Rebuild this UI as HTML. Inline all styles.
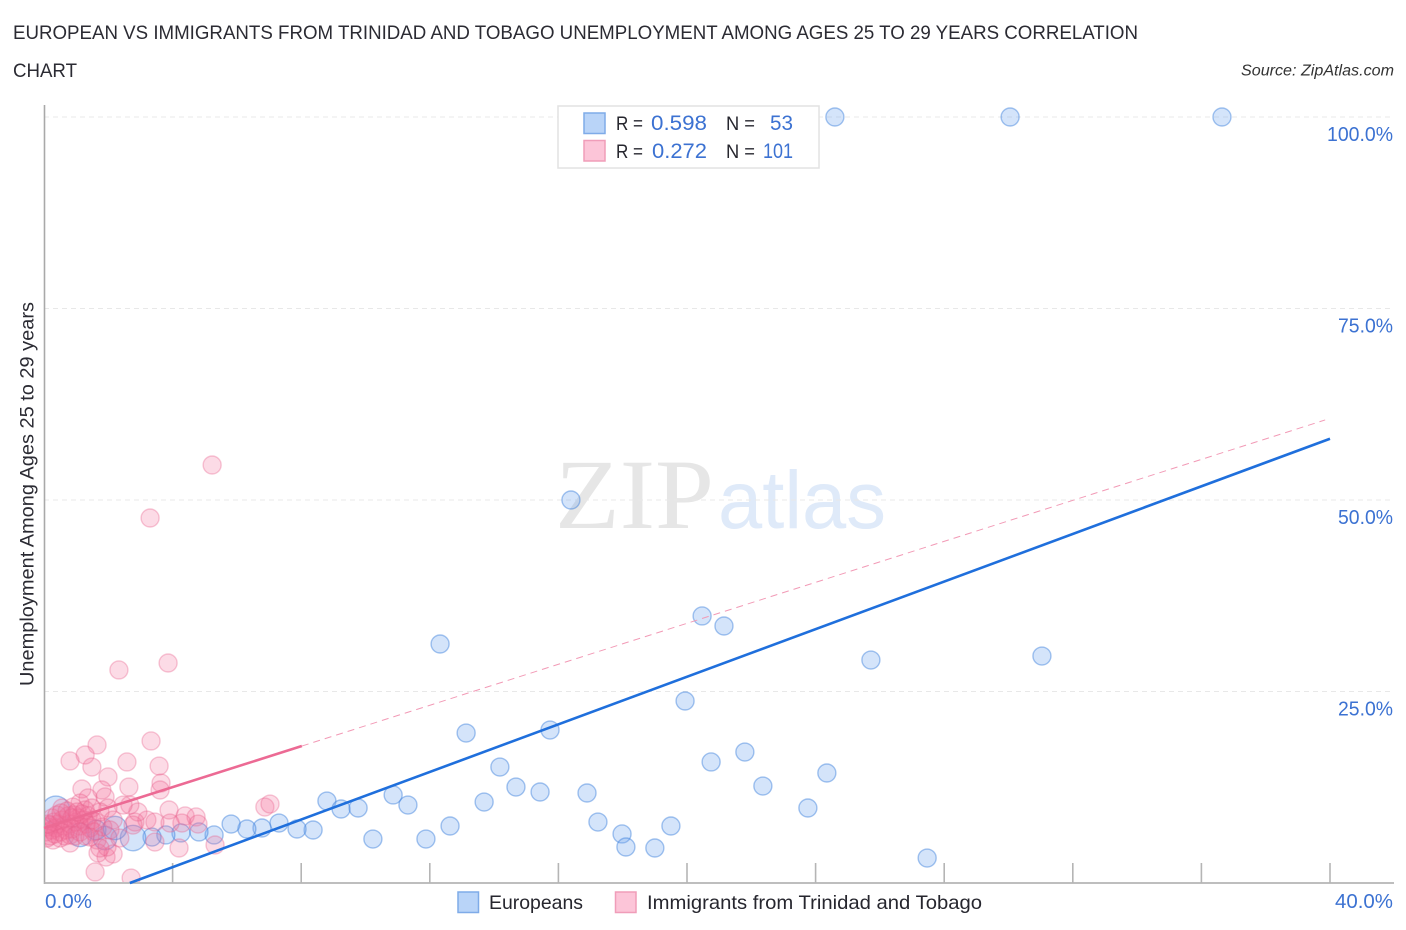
<!DOCTYPE html>
<html lang="en">
<head>
<meta charset="utf-8">
<title>European vs Immigrants from Trinidad and Tobago Unemployment Correlation Chart</title>
<style>
html,body{margin:0;padding:0;background:#fff;width:1406px;height:930px;overflow:hidden}
svg{display:block}
text{font-family:"Liberation Sans",sans-serif}
</style>
</head>
<body>
<svg id="chart" width="1406" height="930" viewBox="0 0 1406 930" xmlns="http://www.w3.org/2000/svg">
  <defs><clipPath id="plot-clip"><rect x="45" y="100" width="1349" height="782"/></clipPath></defs>
  <rect x="0" y="0" width="1406" height="930" fill="#fff"/>

  <text x="13" y="39" font-size="19" fill="#2b2b33" textLength="1125" lengthAdjust="spacingAndGlyphs">EUROPEAN VS IMMIGRANTS FROM TRINIDAD AND TOBAGO UNEMPLOYMENT AMONG AGES 25 TO 29 YEARS CORRELATION</text>
  <text x="13" y="77" font-size="19" fill="#2b2b33" textLength="64" lengthAdjust="spacingAndGlyphs">CHART</text>
  <text x="1241" y="75.500" font-size="15.500" font-style="italic" fill="#333" textLength="153" lengthAdjust="spacingAndGlyphs">Source: ZipAtlas.com</text>

  <g>
    <text x="555" y="528" font-size="100" fill="#e6e6e6" textLength="159" lengthAdjust="spacingAndGlyphs" style="font-family:'Liberation Serif',serif">ZIP</text>
    <text x="718" y="528" font-size="82" fill="#dfeaf9" textLength="168" lengthAdjust="spacingAndGlyphs">atlas</text>
  </g>

  <g id="grid"></g>
  <g id="axes"></g>
  <g id="marks" clip-path="url(#plot-clip)"></g>
  <g id="trends"></g>
  <g id="tick-labels"></g>

  <g>
    <rect x="558" y="106" width="261" height="62" fill="#fff" stroke="#e2e2e2" stroke-width="1.500"/>
    <rect x="584" y="113" width="21" height="20.500" fill="#b9d4f8" stroke="#7fabe8" stroke-width="1.500"/>
    <rect x="584" y="140.500" width="21" height="20.500" fill="#fcc5d8" stroke="#f09db9" stroke-width="1.500"/>
    <text x="616" y="130" font-size="19.500" fill="#26262e" textLength="27" lengthAdjust="spacingAndGlyphs">R =</text>
    <text x="651" y="130" font-size="21" fill="#3c72d2" textLength="56" lengthAdjust="spacingAndGlyphs">0.598</text>
    <text x="726" y="130" font-size="19.500" fill="#26262e" textLength="29" lengthAdjust="spacingAndGlyphs">N =</text>
    <text x="770" y="130" font-size="21" fill="#3c72d2" textLength="23" lengthAdjust="spacingAndGlyphs">53</text>
    <text x="616" y="158" font-size="19.500" fill="#26262e" textLength="27" lengthAdjust="spacingAndGlyphs">R =</text>
    <text x="652" y="158" font-size="21" fill="#3c72d2" textLength="55" lengthAdjust="spacingAndGlyphs">0.272</text>
    <text x="726" y="158" font-size="19.500" fill="#26262e" textLength="29" lengthAdjust="spacingAndGlyphs">N =</text>
    <text x="763" y="158" font-size="21" fill="#3c72d2" textLength="30" lengthAdjust="spacingAndGlyphs">101</text>
  </g>

  <text transform="translate(33.500,686) rotate(-90)" x="0" y="0" font-size="19" fill="#2b2b33" textLength="384" lengthAdjust="spacingAndGlyphs">Unemployment Among Ages 25 to 29 years</text>

  <g>
    <rect x="458" y="892" width="20.500" height="20.500" fill="#b9d4f8" stroke="#7fabe8" stroke-width="1.500"/>
    <text x="489" y="909" font-size="19.500" fill="#26262e" textLength="94" lengthAdjust="spacingAndGlyphs">Europeans</text>
    <rect x="615.500" y="892" width="20.500" height="20.500" fill="#fcc5d8" stroke="#f09db9" stroke-width="1.500"/>
    <text x="647" y="909" font-size="19.500" fill="#26262e" textLength="335" lengthAdjust="spacingAndGlyphs">Immigrants from Trinidad and Tobago</text>
  </g>
</svg>

<script>
const xTickValues = [0, 4, 8, 12, 16, 20, 24, 28, 32, 36, 40];
const yGridValues = [25, 50, 75, 100];
const yTickLabels = ["25.0%", "50.0%", "75.0%", "100.0%"];
const xEndLabels = ["0.0%", "40.0%"];

const europeansX = [24.6,30.05,36.64,16.39,20.47,21.15,12.32,25.72,31.04,19.94,13.13,15.74,21.8,20.75,14.18,22.36,24.35,14.68,15.43,16.89,13.69,8.8,10.86,11.32,9.24,9.77,23.76,17.23,12.63,19.5,17.98,18.1,19.0,27.47,10.23,11.88,8.37,7.87,7.31,6.78,6.31,5.82,5.29,4.82,4.26,3.79,3.36,2.77,1.9,1.62,1.12,0.37,2.21];
const europeansY = [100,100,100,50,34.86,33.55,31.2,29.11,29.63,23.76,19.58,19.97,17.1,15.8,15.14,12.66,14.36,12.53,11.88,11.75,10.57,10.7,11.49,10.18,9.66,9.79,9.79,7.96,7.44,7.44,6.4,4.7,4.57,3.26,5.74,5.74,6.92,7.05,7.83,7.18,7.05,7.7,6.27,6.66,6.53,6.27,6,5.87,5.87,6.92,6.27,9.53,7.18];
const europeansWeight = [1,1,1,1,1,1,1,1,1,1,1,1,1,1,1,1,1,1,1,1,1,1,1,1,1,1,1,1,1,1,1,1,1,1,1,1,1,1,1,1,1,1,1,1,1,1,1,2,1.7,1.2,1.7,2.4,1.7];

const immigrantsX = [5.23,3.3,3.86,2.33,3.33,1.65,1.28,0.81,1.49,2.58,3.58,1.99,3.64,3.61,2.64,1.18,1.8,1.9,1.37,3.89,4.39,4.73,6.87,7.03,5.32,4.2,4.79,4.29,3.92,1.59,2.71,1.93,1.68,2.15,3.45,3.2,3.45,2.83,2.77,2.92,2.67,2.46,1.99,1.12,0.9,0.56,2.15,1.83,1.65,1.96,1.74,0.81,0.28,0.06,0.12,0.19,0.25,0.31,0.37,0.44,0.5,0.56,0.62,0.68,0.75,0.81,0.87,0.93,1,1.06,1.12,1.18,1.24,1.31,1.37,1.43,1.49,1.55,1.62,0.09,0.19,0.34,0.5,0.65,0.81,0.96,1.12,1.28,1.43,0.12,0.25,0.4,0.53,0.72,0.87,1.03,1.28,1.49,1.74,2.05,2.36];
const immigrantsY = [54.57,47.65,28.72,27.81,18.54,18.02,16.71,15.93,15.14,15.8,15.27,13.84,13.05,12.14,12.53,12.27,12.14,11.23,11.1,9.53,8.75,8.62,9.92,10.31,4.96,4.57,7.7,7.83,7.83,1.44,0.65,3.39,3.92,3.79,5.35,8.22,7.96,7.96,7.57,9.27,10.18,10.18,9.79,10.44,9.92,9.79,8.22,7.31,5.61,4.7,4.57,5.22,5.61,6.66,7.31,7.57,6.92,7.96,7.18,7.7,6.66,8.22,7.44,6.92,8.75,7.7,7.05,8.88,7.96,8.49,7.44,9.01,8.22,7.7,8.75,7.18,8.22,6.66,7.96,5.87,6.14,6.4,5.87,6.14,6.27,6.14,6.66,6.14,6,7.7,8.49,8.88,9.14,9.4,8.49,9.27,9.53,9.79,9.27,6.92,5.87];

const europeansTrendX = [2.67, 40];
const europeansTrendY = [0, 58];
const immigrantsTrendX = [0, 8.02];
const immigrantsTrendY = [7.18, 17.88];
const immigrantsProjectionX = [8.02, 39.85];
const immigrantsProjectionY = [17.88, 60.45];

const NS = "http://www.w3.org/2000/svg";
const xScale = function (v) { return 44 + v * (1330 - 44) / 40; };
const yScale = function (v) { return 883 - v * (883 - 117) / 100; };
const rScale = function (w) { return 9 * Math.sqrt(w); };

function make(tag, parentId, attrs) {
  const el = document.createElementNS(NS, tag);
  Object.keys(attrs).forEach(function (k) { el.setAttribute(k, attrs[k]); });
  document.getElementById(parentId).appendChild(el);
  return el;
}

yGridValues.forEach(function (v) {
  const el = make("line", "grid", { x1: 44, x2: 1394, y1: yScale(v), y2: yScale(v), stroke: "#e8e8e8", "stroke-width": 1, "stroke-dasharray": "5 4" });
  
  
});

const yAxis = make("line", "axes", { x1: 44.5, x2: 44.5, y1: 105, y2: 884, stroke: "#a9a9a9", "stroke-width": 1.6 });


const xAxis = make("line", "axes", { x1: 44, x2: 1394, y1: 883, y2: 883, stroke: "#b5b5b5", "stroke-width": 1.8 });


xTickValues.slice(1).forEach(function (v) {
  const el = make("line", "axes", { x1: xScale(v), x2: xScale(v), y1: 863, y2: 883, stroke: "#b5b5b5", "stroke-width": 1.6 });
  
  
});

europeansX.forEach(function (v, i) {
  const el = make("circle", "marks", { cx: xScale(v), cy: yScale(europeansY[i]), r: rScale(europeansWeight[i]), fill: "#6fa5ee", "fill-opacity": 0.3, stroke: "#3a7fdc", "stroke-opacity": 0.45, "stroke-width": 1.4 });
  
  
});
immigrantsX.forEach(function (v, i) {
  const el = make("circle", "marks", { cx: xScale(v), cy: yScale(immigrantsY[i]), r: rScale(1), fill: "#f56f9b", "fill-opacity": 0.25, stroke: "#e8608c", "stroke-opacity": 0.35, "stroke-width": 1.4 });
  
  
});

const trendBlue = make("line", "trends", { x1: xScale(europeansTrendX[0]), y1: yScale(europeansTrendY[0]), x2: xScale(europeansTrendX[1]), y2: yScale(europeansTrendY[1]), stroke: "#1f6fdc", "stroke-width": 2.6 });


const trendPink = make("line", "trends", { x1: xScale(immigrantsTrendX[0]), y1: yScale(immigrantsTrendY[0]), x2: xScale(immigrantsTrendX[1]), y2: yScale(immigrantsTrendY[1]), stroke: "#ec6a94", "stroke-width": 2.6 });


const trendDash = make("line", "trends", { x1: xScale(immigrantsProjectionX[0]), y1: yScale(immigrantsProjectionY[0]), x2: xScale(immigrantsProjectionX[1]), y2: yScale(immigrantsProjectionY[1]), stroke: "#f29ab6", "stroke-width": 1, "stroke-dasharray": "7 5" });



yTickLabels.forEach(function (label, i) {
  const el = make("text", "tick-labels", { x: 1393, y: yScale(yGridValues[i]) + 24, "text-anchor": "end", "font-size": 20, fill: "#3c72d2", textLength: label.length > 5 ? 66 : 55, lengthAdjust: "spacingAndGlyphs" });
  el.textContent = label;
  
  
});
const xLabelStart = make("text", "tick-labels", { x: 45, y: 908, "font-size": 20, fill: "#3c72d2", textLength: 47, lengthAdjust: "spacingAndGlyphs" });
xLabelStart.textContent = xEndLabels[0];


const xLabelEnd = make("text", "tick-labels", { x: 1393, y: 908, "text-anchor": "end", "font-size": 20, fill: "#3c72d2", textLength: 58, lengthAdjust: "spacingAndGlyphs" });
xLabelEnd.textContent = xEndLabels[1];


</script>
</body>
</html>
